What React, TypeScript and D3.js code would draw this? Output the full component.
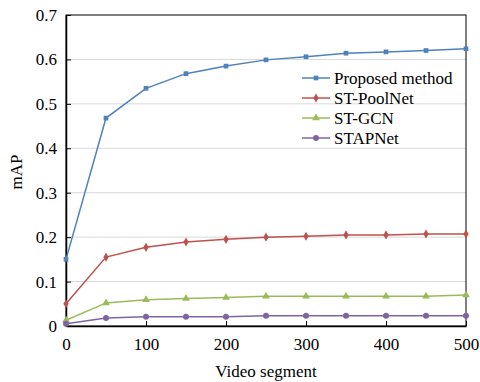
import React, { useEffect, useRef } from "react";
import * as d3 from "d3";

const segments = [0, 50, 100, 150, 200, 250, 300, 350, 400, 450, 500];
const proposed = [0.15, 0.468, 0.535, 0.568, 0.585, 0.599, 0.606, 0.614, 0.617, 0.62, 0.624];
const poolNet = [0.05, 0.155, 0.177, 0.189, 0.195, 0.2, 0.202, 0.205, 0.205, 0.207, 0.207];
const gcn = [0.013, 0.052, 0.059, 0.062, 0.064, 0.067, 0.067, 0.067, 0.067, 0.067, 0.07];
const stapNet = [0.005, 0.018, 0.021, 0.021, 0.021, 0.023, 0.023, 0.023, 0.023, 0.023, 0.023];
const seriesNames = ["Proposed method", "ST-PoolNet", "ST-GCN", "STAPNet"];
const xTicks = [0, 100, 200, 300, 400, 500];
const yTicks = [0, 0.1, 0.2, 0.3, 0.4, 0.5, 0.6, 0.7];

const colors = ["#4f81bd", "#c0504d", "#9bbb59", "#8064a2"];
const symbols = [d3.symbolSquare, d3.symbolDiamond, d3.symbolTriangle, d3.symbolCircle];
const symbolSizes = [22, 24, 26, 28];

const App = () => {
  const ref = useRef<SVGSVGElement>(null);

  useEffect(() => {
    const svg = d3.select(ref.current);
    svg.selectAll("*").remove();

    const margin = { top: 15, right: 14, bottom: 56, left: 66 };
    const width = 480 - margin.left - margin.right;
    const height = 382 - margin.top - margin.bottom;
    const font = "Liberation Serif";

    const x = d3.scaleLinear().domain([0, 500]).range([0, width]);
    const y = d3.scaleLinear().domain([0, 0.7]).range([height, 0]);

    const g = svg.append("g").attr("transform", `translate(${margin.left},${margin.top})`);

    // gridlines
    g.selectAll(".grid")
      .data(yTicks.filter((t) => t > 0 && t < 0.7))
      .enter()
      .append("line")
      .attr("x1", 0)
      .attr("x2", width)
      .attr("y1", (d) => y(d))
      .attr("y2", (d) => y(d))
      .attr("stroke", "#d9d9d9")
      .attr("stroke-width", 1);

    // frame
    g.append("rect")
      .attr("width", width)
      .attr("height", height)
      .attr("fill", "none")
      .attr("stroke", "#000")
      .attr("stroke-width", 1);

    // axes with inner ticks
    const xAxis = g.append("g")
      .attr("transform", `translate(0,${height})`)
      .call(d3.axisBottom(x).tickValues(xTicks).tickSizeInner(-5).tickSizeOuter(0).tickPadding(12).tickFormat(d3.format("d")));
    const yAxis = g.append("g")
      .call(d3.axisLeft(y).tickValues(yTicks).tickSizeInner(-5).tickSizeOuter(0).tickPadding(9).tickFormat((d) => (d === 0 ? "0" : d3.format(".1f")(d as number))));
    [xAxis, yAxis].forEach((a) => {
      a.attr("font-family", null).attr("font-size", null);
      a.select(".domain").attr("stroke", "#000").attr("stroke-width", 1.5);
      a.selectAll("line").attr("stroke", "#000");
      a.selectAll("text").style("font-family", font).style("font-size", "17px").attr("fill", "#000");
    });

    const allSeries = [proposed, poolNet, gcn, stapNet];
    const line = d3.line<number>().x((_, i) => x(segments[i])).y((d) => y(d));

    allSeries.forEach((vals, s) => {
      g.append("path")
        .datum(vals)
        .attr("d", line)
        .attr("fill", "none")
        .attr("stroke", colors[s])
        .attr("stroke-width", 1.5);
      g.selectAll(`.m${s}`)
        .data(vals)
        .enter()
        .append("path")
        .attr("transform", (d, i) => `translate(${x(segments[i])},${y(d)})`)
        .attr("d", d3.symbol().type(symbols[s]).size(symbolSizes[s]))
        .attr("fill", colors[s]);
    });

    // legend
    const legend = g.append("g").attr("transform", `translate(${236},${63})`);
    seriesNames.forEach((name, i) => {
      const row = legend.append("g").attr("transform", `translate(0,${i * 20})`);
      row.append("line").attr("x1", 0).attr("x2", 28).attr("stroke", colors[i]).attr("stroke-width", 1.5);
      row.append("path").attr("transform", "translate(14,0)")
        .attr("d", d3.symbol().type(symbols[i]).size(symbolSizes[i]))
        .attr("fill", colors[i]);
      row.append("text")
        .attr("x", 32)
        .attr("dy", "0.35em")
        .style("font-family", font)
        .style("font-size", "17px")
        .text(name);
    });

    // axis titles
    svg.append("text")
      .attr("x", margin.left + width / 2)
      .attr("y", 377)
      .attr("text-anchor", "middle")
      .style("font-family", font)
      .style("font-size", "17px")
      .text("Video segment");
    svg.append("text")
      .attr("transform", `translate(22,${172}) rotate(-90)`)
      .attr("text-anchor", "middle")
      .style("font-family", font)
      .style("font-size", "17px")
      .text("mAP");
  }, []);

  return (
    <svg ref={ref} width={480} height={382} style={{ position: "absolute", left: 0, top: 0, background: "#fff" }} />
  );
};

export default App;
